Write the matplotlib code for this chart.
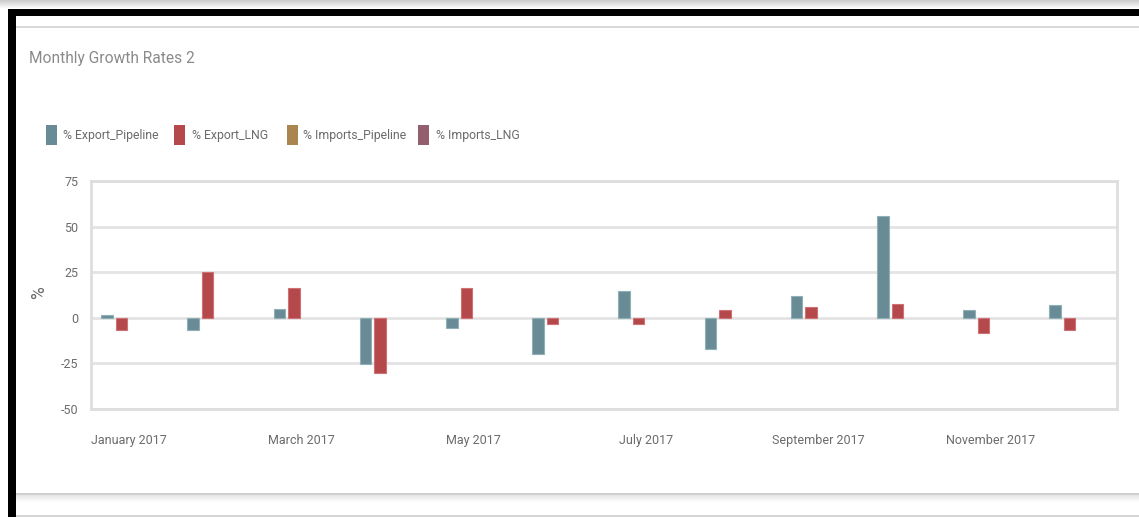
import matplotlib
matplotlib.use("Agg")
import matplotlib.pyplot as plt
import matplotlib.patches as mpatches
import numpy as np

months = ["January 2017", "February 2017", "March 2017", "April 2017", "May 2017", "June 2017",
          "July 2017", "August 2017", "September 2017", "October 2017", "November 2017", "December 2017"]
export_pipeline = [1.5, -6.5, 5.0, -25.5, -5.5, -20.0, 14.5, -17.0, 11.8, 56.0, 4.2, 7.0]
export_lng = [-6.5, 25.0, 16.5, -30.0, 16.5, -3.5, -3.5, 4.2, 6.0, 7.8, -8.5, -6.5]
imports_pipeline = [0.0] * 12
imports_lng = [0.0] * 12
series_names = ["% Export_Pipeline", "% Export_LNG", "% Imports_Pipeline", "% Imports_LNG"]
colors = ["#688b95", "#b4484b", "#a9864f", "#935e6e"]
edges = ["#8fb0b8", "#d07275", "#c4a474", "#b08391"]
yticks = [-50, -25, 0, 25, 50, 75]

plt.rcParams["font.family"] = ["Roboto", "DejaVu Sans"]

W, H = 1139, 517
fig = plt.figure(figsize=(W / 100, H / 100), dpi=100)
renderer = fig.canvas.get_renderer()

def fit_size(text, target_px, boost=1.15):
    t = fig.text(0, 0, text, fontsize=10)
    wpx = t.get_window_extent(renderer).width
    t.remove()
    return 10 * target_px / wpx * boost

def px_rect(x0, y0, x1, y1, color, z=0):
    fig.patches.append(mpatches.Rectangle((x0 / W, 1 - y1 / H), (x1 - x0) / W, (y1 - y0) / H,
                                          transform=fig.transFigure, color=color, zorder=z, lw=0))

# top grey gradient
for i in range(9):
    g = 0.80 + 0.2 * i / 8
    px_rect(0, i, W, i + 1, (g, g, g))
# black frame
px_rect(8, 9, W, 16, "black", 1)
px_rect(8, 9, 16, H, "black", 1)
# card lines
px_rect(16, 26, W, 28, "#d9d9d9", 1)
px_rect(16, 493, W, 495, "#cfcfcf", 1)
for i in range(8):
    g = 0.90 + 0.1 * i / 7
    px_rect(16, 495 + i, W, 496 + i, (g, g, g), 1)
px_rect(16, 515, W, 517, "#d4d4d4", 1)

tick_size = fit_size("January 2017", 66)
title_size = fit_size("Monthly Growth Rates 2", 144)
legend_size = fit_size("% Export_Pipeline", 92, boost=1.05)

ax = fig.add_axes([91 / W, 1 - 409 / H, 1026 / W, 228 / H])
x = np.arange(len(months))
s = 0.168
w = 0.133
all_series = [export_pipeline, export_lng, imports_pipeline, imports_lng]
for k, vals in enumerate(all_series):
    off = (k - 1.5) * s
    lw = 0.8 if any(v != 0 for v in vals) else 0
    ax.bar(x + off, vals, width=w, color=colors[k], edgecolor=edges[k], linewidth=lw, zorder=3,
           label=series_names[k])

ax.set_xlim(-0.438, 11.465)
ax.set_ylim(-50, 75)
ax.set_yticks(yticks)
ax.set_yticklabels([str(t) for t in yticks])
ax.set_xticks(x[::2])
ax.set_xticklabels(months[::2])
ax.tick_params(axis="both", length=0, colors="#6b6b6b", labelsize=tick_size)
ax.tick_params(axis="y", pad=9)
ax.tick_params(axis="x", pad=18)
ax.grid(axis="y", color="#e3e3e3", linewidth=2, zorder=0)
for sp in ax.spines.values():
    sp.set_color("#dedede")
    sp.set_linewidth(2)
ax.set_ylabel("%", color="#6b6b6b", fontsize=tick_size * 1.4)
ax.yaxis.set_label_coords((48 - 91) / 1026, (409 - 293) / 228)

fig.text(29 / W, 1 - 58 / H, "Monthly Growth Rates 2", color="#8a8a8a", fontsize=title_size,
         va="center", ha="left")

# legend drawn as patches + text at the reference positions
leg_marker_x = [46, 174, 287, 418]
leg_text_x = [63, 192, 303, 436]
for k in range(4):
    px_rect(leg_marker_x[k], 125, leg_marker_x[k] + 11, 145, colors[k], 2)
    fig.text(leg_text_x[k] / W, 1 - 136 / H, series_names[k], color="#6b6b6b", fontsize=legend_size,
             va="center", ha="left")

fig.savefig("out.png", dpi=100)
